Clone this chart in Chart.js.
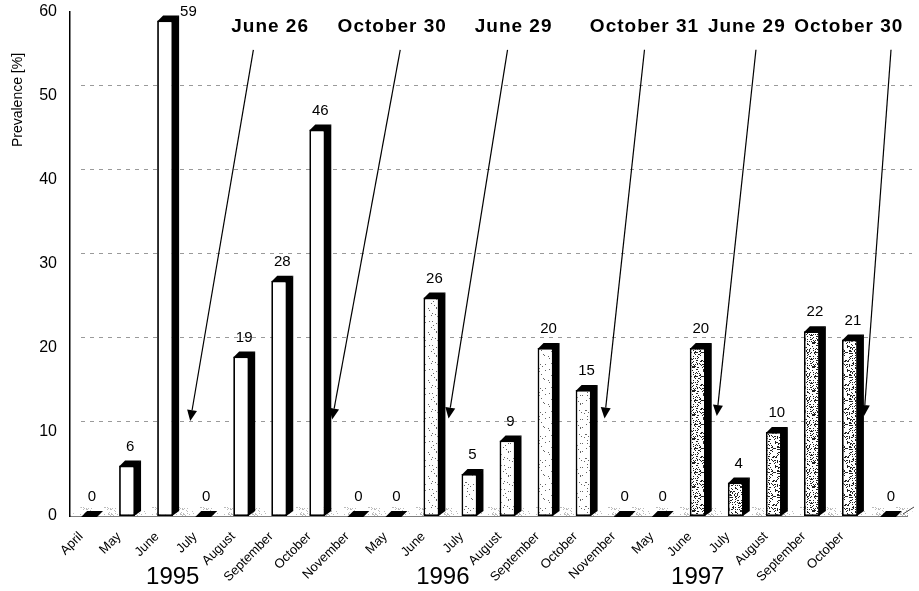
<!DOCTYPE html>
<html>
<head>
<meta charset="utf-8">
<script src="https://cdn.jsdelivr.net/npm/chart.js@4.4.1/dist/chart.umd.min.js"></script>
<style>
  html, body { margin: 0; padding: 0; background: #fff; }
  #wrap { width: 919px; height: 591px; }
</style>
</head>
<body>
<div id="wrap"><canvas id="c" width="919" height="591"></canvas></div>
<script>
// Monthly prevalence, three sampling seasons
const months = ['April', 'May', 'June', 'July', 'August', 'September', 'October', 'November',
                'May', 'June', 'July', 'August', 'September', 'October', 'November',
                'May', 'June', 'July', 'August', 'September', 'October', ''];
const prevalence = [0, 6, 59, 0, 19, 28, 46, 0,
                    0, 26, 5, 9, 20, 15, 0,
                    0, 20, 4, 10, 22, 21, 0];
const seasonOf = [0, 0, 0, 0, 0, 0, 0, 0,
                  1, 1, 1, 1, 1, 1, 1,
                  2, 2, 2, 2, 2, 2, 2];
const yearLabels = ['1995', '1996', '1997'];
const yearAt = [2.2, 9.3, 16.0];            // category position under which each year is written
const valueTicks = [0, 10, 20, 30, 40, 50, 60];

// Sampling dates with arrows pointing into the series
const sampleDates = ['June 26', 'October 30', 'June 29', 'October 31', 'June 29', 'October 30'];
const dateLabelAt = [4.76, 7.97, 11.16, 14.6, 17.29, 19.97];
const arrowFromAt = [4.32, 8.18, 11.0, 14.6, 17.53, 21.08];
const arrowToAt = [2.66, 6.39, 9.45, 13.55, 16.5, 20.37];
const arrowTipValue = [11.3, 11.5, 11.6, 11.6, 11.9, 11.9];
const arrowTopValue = 55.5;
const dateLabelValue = 58.2;

const FONT = "'Liberation Sans', Arial, sans-serif";
const BAR_DEPTH = { x: 6, y: 5 };
const WALL_DEPTH = { x: 11, y: 11 };

// speckled fills for the later seasons
function stipple(count, seed, ink) {
  const n = 24;
  const c = document.createElement('canvas');
  c.width = n; c.height = n;
  const g = c.getContext('2d');
  g.fillStyle = '#fff';
  g.fillRect(0, 0, n, n);
  g.fillStyle = ink;
  let s = seed;
  const next = () => { s = (s * 16807) % 2147483647; return s; };
  for (let i = 0; i < count; i++) {
    const x = next() % n, y = next() % n;
    g.fillRect(x, y, 1, 1);
  }
  return g.createPattern(c, 'repeat');
}
const seasonFill = ['#ffffff', stipple(32, 11, '#666'), stipple(160, 29, '#222')];
const floorFill = stipple(60, 5, '#bbb');

const depthPlugin = {
  id: 'depth',
  beforeDatasetsDraw(chart) {
    const { ctx, chartArea: a, scales: { y } } = chart;
    ctx.save();
    // floor
    ctx.fillStyle = floorFill;
    ctx.beginPath();
    ctx.moveTo(a.left, a.bottom);
    ctx.lineTo(a.right, a.bottom);
    ctx.lineTo(a.right + WALL_DEPTH.x, a.bottom - WALL_DEPTH.y + 2);
    ctx.lineTo(a.left + WALL_DEPTH.x, a.bottom - WALL_DEPTH.y + 2);
    ctx.closePath();
    ctx.fill();
    ctx.strokeStyle = '#444';
    ctx.lineWidth = 1;
    ctx.beginPath();
    ctx.moveTo(a.right - 4, a.bottom - 2);
    ctx.lineTo(a.right + WALL_DEPTH.x - 4, a.bottom - WALL_DEPTH.y + 2);
    ctx.stroke();
    // back wall gridlines
    ctx.strokeStyle = '#9a9a9a';
    ctx.setLineDash([4, 5]);
    valueTicks.forEach(v => {
      if (v === 0 || v === 60) return;
      const py = Math.round(y.getPixelForValue(v) - WALL_DEPTH.y) + 0.5;
      ctx.beginPath();
      ctx.moveTo(a.left + WALL_DEPTH.x, py);
      ctx.lineTo(a.right + WALL_DEPTH.x - 6, py);
      ctx.stroke();
    });
    ctx.restore();
  },
  afterDatasetsDraw(chart) {
    const { ctx, chartArea: a, scales: { x, y } } = chart;
    const meta = chart.getDatasetMeta(0);
    ctx.save();
    meta.data.forEach((bar, i) => {
      const left = bar.x - bar.width / 2, right = bar.x + bar.width / 2;
      const top = bar.y, bottom = bar.base;
      const dx = BAR_DEPTH.x, dy = BAR_DEPTH.y;
      ctx.fillStyle = '#000';
      // side face
      if (bottom - top > 0.5) {
        ctx.beginPath();
        ctx.moveTo(right - 1, top);
        ctx.lineTo(right + dx, top - dy);
        ctx.lineTo(right + dx, bottom - dy);
        ctx.lineTo(right - 1, bottom);
        ctx.closePath();
        ctx.fill();
      }
      // top face
      ctx.beginPath();
      ctx.moveTo(left, top + 1);
      ctx.lineTo(left + dx, top - dy);
      ctx.lineTo(right + dx, top - dy);
      ctx.lineTo(right, top + 1);
      ctx.closePath();
      ctx.fill();

      // value label
      ctx.font = `15px ${FONT}`;
      ctx.fillStyle = '#000';
      ctx.textBaseline = 'middle';
      const labelY = top - dy - 14;
      if (labelY < a.top + 4) {
        ctx.textAlign = 'left';
        ctx.fillText(String(prevalence[i]), right + dx + 1, top - dy - 4);
      } else {
        ctx.textAlign = 'center';
        ctx.fillText(String(prevalence[i]), bar.x + dx / 2, labelY);
      }
    });

    // arrows from sampling dates
    ctx.strokeStyle = '#000';
    ctx.fillStyle = '#000';
    ctx.lineWidth = 1.2;
    sampleDates.forEach((d, i) => {
      const x0 = x.getPixelForValue(arrowFromAt[i]), y0 = y.getPixelForValue(arrowTopValue);
      const x1 = x.getPixelForValue(arrowToAt[i]), y1 = y.getPixelForValue(arrowTipValue[i]);
      const ang = Math.atan2(y1 - y0, x1 - x0);
      const len = 11, half = 5;
      const bx = x1 - len * Math.cos(ang), by = y1 - len * Math.sin(ang);
      ctx.beginPath();
      ctx.moveTo(x0, y0);
      ctx.lineTo(bx, by);
      ctx.stroke();
      ctx.beginPath();
      ctx.moveTo(x1, y1);
      ctx.lineTo(bx + half * Math.sin(ang), by - half * Math.cos(ang));
      ctx.lineTo(bx - half * Math.sin(ang), by + half * Math.cos(ang));
      ctx.closePath();
      ctx.fill();
    });

    // date captions
    ctx.font = `bold 19px ${FONT}`;
    ctx.letterSpacing = '1px';
    ctx.textAlign = 'center';
    ctx.textBaseline = 'middle';
    sampleDates.forEach((d, i) => {
      ctx.fillText(d, x.getPixelForValue(dateLabelAt[i]), y.getPixelForValue(dateLabelValue));
    });
    ctx.letterSpacing = '0px';

    // years under the month labels
    ctx.font = `24px ${FONT}`;
    yearLabels.forEach((yr, i) => {
      ctx.fillText(yr, x.getPixelForValue(yearAt[i]), 577);
    });

    // value axis title
    ctx.font = `14px ${FONT}`;
    ctx.translate(18, 100);
    ctx.rotate(-Math.PI / 2);
    ctx.fillText('Prevalence [%]', 0, 0);
    ctx.restore();
  }
};

new Chart(document.getElementById('c'), {
  type: 'bar',
  data: {
    labels: months,
    datasets: [{
      data: prevalence,
      backgroundColor: c => seasonFill[seasonOf[c.dataIndex]],
      borderColor: '#000',
      borderWidth: 1.8,
      borderSkipped: false,
      barPercentage: 0.42,
      categoryPercentage: 1
    }]
  },
  options: {
    responsive: false,
    animation: false,
    devicePixelRatio: 1,
    layout: { padding: { left: 0, right: 12, top: 12, bottom: 0 } },
    plugins: { legend: { display: false }, tooltip: { enabled: false } },
    scales: {
      x: {
        grid: { display: false, drawTicks: false },
        border: { display: true, color: '#000', width: 1.5 },
        ticks: {
          autoSkip: false, minRotation: 45, maxRotation: 45,
          font: { family: FONT, size: 13 }, color: '#000',
          padding: 13, labelOffset: -8
        },
        afterFit: s => { s.height = 75; s.paddingLeft = 0; s.paddingRight = 0; }
      },
      y: {
        min: 0, max: 60,
        afterBuildTicks: s => { s.ticks = valueTicks.map(v => ({ value: v })); },
        grid: { display: false, drawTicks: false },
        border: { display: true, color: '#000', width: 1.5 },
        ticks: { font: { family: FONT, size: 16 }, color: '#000', padding: 13 },
        afterFit: s => { s.width = 70; s.paddingTop = 0; s.paddingBottom = 0; }
      }
    }
  },
  plugins: [depthPlugin]
});
</script>
</body>
</html>
